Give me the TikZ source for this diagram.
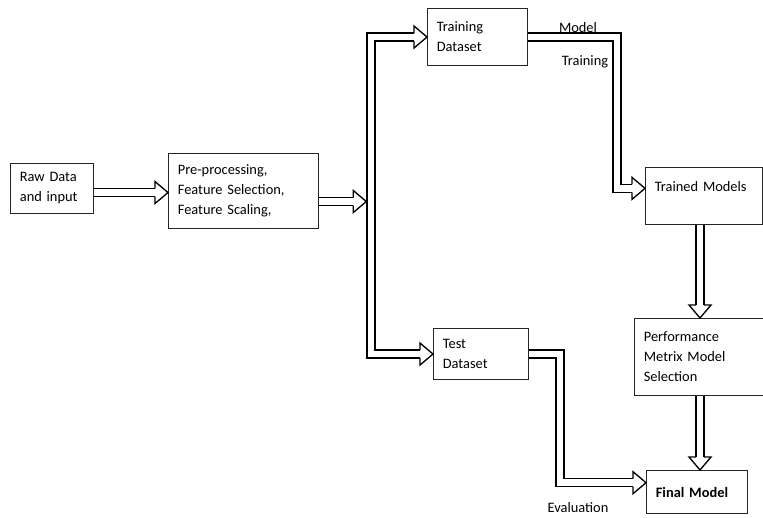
\documentclass[tikz,border=0pt]{standalone}
\usepackage{fontspec}
\setmainfont{Carlito}

\tikzset{
  box/.style={draw=black!85, line width=0.8pt, anchor=north west, align=left, inner xsep=7pt, font=\fontsize{10.8}{15}\selectfont},
  pipe/.style={draw=black, line width=1pt, double=white, double distance=5pt, shorten >=9.5pt},
  head/.pic={\filldraw[fill=white, draw=black, line width=1pt, line join=miter] (-13,4) -- (-13,11) -- (0,0) -- (-13,-11) -- (-13,-4);},
  lbl/.style={inner sep=0.75pt, font=\fontsize{10.8}{12}\selectfont}
}

\begin{document}
\begin{tikzpicture}[x=0.75pt,y=0.75pt,yscale=-1,xscale=1]
\path[use as bounding box] (0,0) rectangle (763,517);

% Boxes
\node[box, text width=48.25pt, minimum height=37.5pt] (raw) at (10,163) {Raw Data\\and input};
\node[box, text width=98.5pt, minimum height=56.25pt] (pre) at (168,153) {Pre-processing,\\Feature Selection,\\Feature Scaling,};
\node[box, text width=61pt, minimum height=42.75pt] (train) at (427,8) {Training\\Dataset};
\node[box, text width=57.25pt, minimum height=38.25pt] (test) at (433,328) {Test\\Dataset};
\node[box, text width=73.75pt, inner ysep=10pt, text height=8pt, text depth=15pt] (trained) at (645,167) {Trained Models};
\node[box, text width=82.75pt, minimum height=57.75pt] (perf) at (634,318) {Performance\\Metrix Model\\Selection};
\node[box, text width=61.75pt, minimum height=32.25pt] (final) at (646,470) {\textbf{Final Model}};

% Bends
\coordinate (split) at (371,201.5);
\coordinate (splitL) at (366.3,201.5);
\coordinate (mt) at (617,100);
\coordinate (ev) at (560,420);
\coordinate (col) at (700,0);
\coordinate (rawE) at ([yshift=3pt]raw.east);
\coordinate (finW) at ([yshift=-7pt]final.west);

% Connectors
\draw[pipe] (rawE) -- (rawE -| pre.west);
\draw[pipe] (pre.east |- split) -- (splitL);
\draw[pipe] (split) |- (train.west);
\draw[pipe] (split) |- (test.west);
\draw[pipe] (train.east) -| (mt) |- (trained.mid west);
\draw[pipe] (trained.south -| col) -- (perf.north -| col);
\draw[pipe] (perf.south -| col) -- (final.north -| col);
\draw[pipe] (test.east) -| (ev) |- (finW);

% Arrow heads
\pic at (rawE -| pre.west) {head};
\pic at (splitL) {head};
\pic at (train.west) {head};
\pic at (test.west) {head};
\pic at (trained.mid west) {head};
\pic[rotate=-90] at (perf.north -| col) {head};
\pic[rotate=-90] at (final.north -| col) {head};
\pic at (finW) {head};

% Text Node
\node[lbl] (model) at (578,28) {Model};
\node[lbl] (training) at (585,62) {Training};
\node[lbl] (evaluation) at (578,508) {Evaluation};

\end{tikzpicture}
\end{document}
